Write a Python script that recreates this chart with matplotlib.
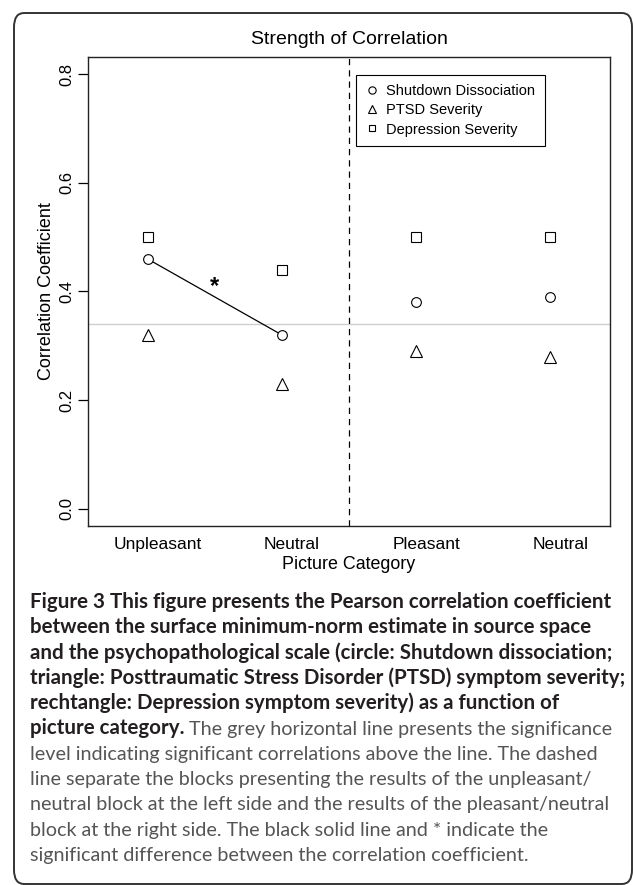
import matplotlib
matplotlib.use('Agg')
import matplotlib.pyplot as plt
from matplotlib.patches import FancyBboxPatch

# values
categories = ['Unpleasant', 'Neutral', 'Pleasant', 'Neutral']
shutdown = [0.46, 0.32, 0.38, 0.39]
ptsd = [0.32, 0.23, 0.29, 0.28]
depression = [0.50, 0.44, 0.50, 0.50]
sig_level = 0.34
y_ticks = [0.0, 0.2, 0.4, 0.6, 0.8]

caption_bold = [
    'Figure 3 This figure presents the Pearson correlation coefficient',
    'between the surface minimum-norm estimate in source space',
    'and the psychopathological scale (circle: Shutdown dissociation;',
    'triangle: Posttraumatic Stress Disorder (PTSD) symptom severity;',
    'rechtangle: Depression symptom severity) as a function of',
]
caption_mixed = ('picture category.', ' The grey horizontal line presents the significance')
caption_plain = [
    'level indicating significant correlations above the line. The dashed',
    'line separate the blocks presenting the results of the unpleasant/',
    'neutral block at the left side and the results of the pleasant/neutral',
    'block at the right side. The black solid line and * indicate the',
    'significant difference between the correlation coefficient.',
]

W, H = 633, 885
plt.rcParams['font.family'] = ['Liberation Sans', 'DejaVu Sans']
fig = plt.figure(figsize=(W / 100, H / 100), dpi=100)

# rounded frame around the whole figure
frame = FancyBboxPatch((14 / W, 1 - 884 / H), (632 - 14) / W, (884 - 13) / H,
                       boxstyle='round,pad=0,rounding_size=0.016',
                       transform=fig.transFigure, fill=False,
                       edgecolor='#333333', linewidth=1.4)
fig.patches.append(frame)

ax = fig.add_axes([88 / W, 1 - 526 / H, (610 - 88) / W, (526 - 57) / H])
x = list(range(1, len(categories) + 1))

ax.axhline(sig_level, color='#cfcfcf', lw=1.0, zorder=1)
ax.axvline(2.5, color='black', lw=0.9, ls=(0, (5, 4)), zorder=1)

# significant difference between the two shutdown values of the left block
ax.plot(x[:2], shutdown[:2], color='black', lw=0.9, zorder=2)
ax.text(1.5, 0.41, '*', fontsize=17, fontweight='bold', ha='center', va='center')

mk = dict(mfc='white', mec='black', mew=0.8, ls='none', zorder=3)
ax.plot(x, shutdown, marker='o', ms=7, label='Shutdown Dissociation', **mk)
ax.plot(x, ptsd, marker='^', ms=8, label='PTSD Severity', **mk)
ax.plot(x, depression, marker='s', ms=6.5, label='Depression Severity', **mk)

ax.set_xlim(0.556, 4.444)
ax.set_ylim(-0.032, 0.832)
ax.set_yticks(y_ticks)
ax.set_yticklabels([f'{v:.1f}' for v in y_ticks], rotation=90, va='center', fontsize=12)
ax.set_xticks([v + 0.075 for v in x])
ax.set_xticklabels(categories, fontsize=12.5)
ax.tick_params(axis='x', length=0, pad=8)
ax.tick_params(axis='y', length=7, width=0.9, pad=3)
for s in ax.spines.values():
    s.set_linewidth(1.0)
    s.set_color('#222222')

ax.set_xlabel('Picture Category', fontsize=12.9, labelpad=3)
ax.set_ylabel('Correlation Coefficient', fontsize=13, labelpad=3)
ax.set_title('Strength of Correlation', fontsize=14, pad=9)

leg = ax.legend(loc='upper left', bbox_to_anchor=(0.513, 0.962), fontsize=10.5,
                frameon=True, fancybox=False, edgecolor='black', framealpha=1,
                handlelength=0.9, handletextpad=0.55, labelspacing=0.35,
                borderpad=0.65, borderaxespad=0, markerscale=0.75)
leg.get_frame().set_linewidth(0.8)

# caption under the plot
renderer = fig.canvas.get_renderer()
cap_font = ['Lato', 'DejaVu Sans']
x0 = 30 / W


def fit_size(txt, weight, target):
    t = fig.text(0, 0, txt, fontsize=12, family=cap_font, fontweight=weight)
    w = t.get_window_extent(renderer).width
    t.remove()
    return 12 * target / w


bold_size = fit_size(caption_bold[0], 'bold', 579)
plain_size = fit_size(caption_plain[2], 'normal', 577)

base = 608
pitch = 25.3
row = 0
for line in caption_bold:
    fig.text(x0, 1 - (base + row * pitch) / H, line, fontsize=bold_size,
             family=cap_font, fontweight='bold', color='#231f20', va='baseline')
    row += 1
tb = fig.text(x0, 1 - (base + row * pitch) / H, caption_mixed[0], fontsize=bold_size,
              family=cap_font, fontweight='bold', color='#231f20', va='baseline')
wb = tb.get_window_extent(renderer).width
fig.text(x0 + wb / W, 1 - (base + row * pitch) / H, caption_mixed[1], fontsize=plain_size,
         family=cap_font, color='#555555', va='baseline')
row += 1
for line in caption_plain:
    fig.text(x0, 1 - (base + row * pitch) / H, line, fontsize=plain_size,
             family=cap_font, color='#555555', va='baseline')
    row += 1

fig.savefig('out.png', dpi=100)
